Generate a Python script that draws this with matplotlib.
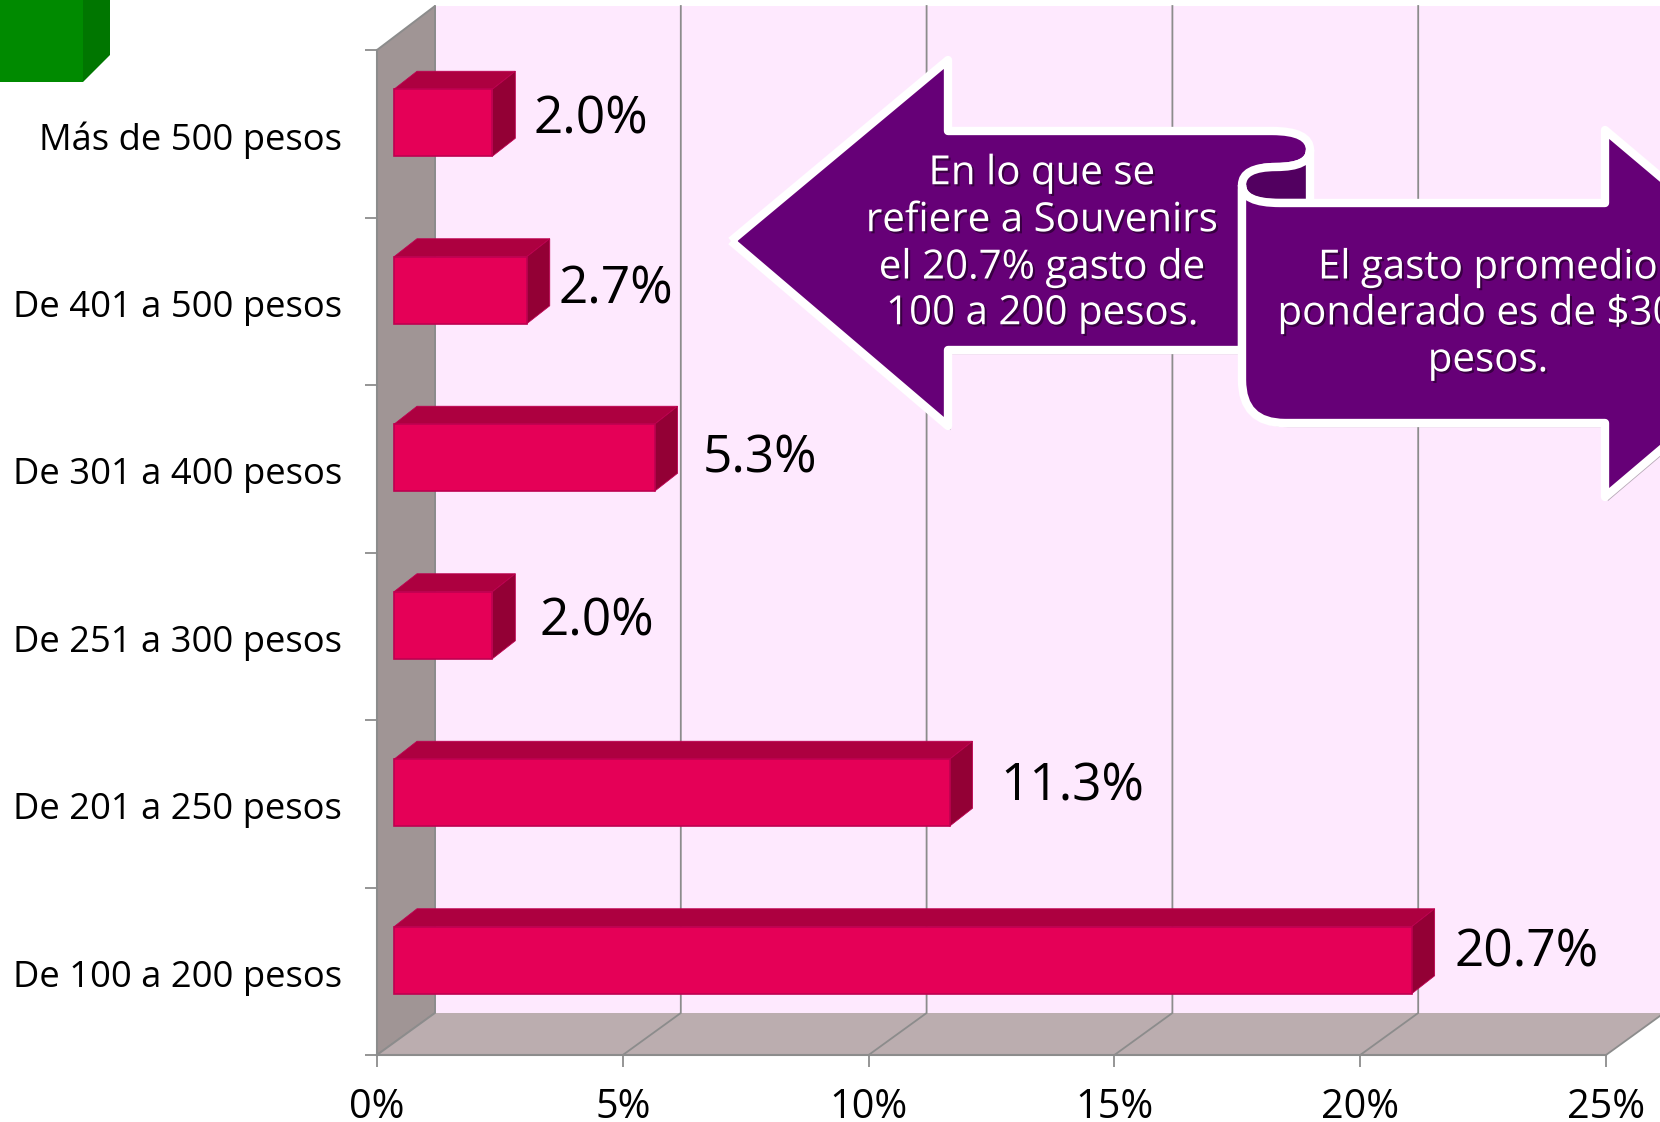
import matplotlib
matplotlib.use("Agg")
import matplotlib.pyplot as plt
import matplotlib.patheffects as pe
from matplotlib.patches import PathPatch, Polygon
from matplotlib.path import Path
from matplotlib.transforms import ScaledTranslation

# Chart data, listed from the bottom category upward
categories = ["De 100 a 200 pesos", "De 201 a 250 pesos", "De 251 a 300 pesos",
              "De 301 a 400 pesos", "De 401 a 500 pesos", "Más de 500 pesos"]
values = [20.7, 11.3, 2.0, 5.3, 2.7, 2.0]
value_labels = ["20.7%", "11.3%", "2.0%", "5.3%", "2.7%", "2.0%"]
x_ticks = [0, 5, 10, 15, 20, 25]
x_tick_labels = ["0%", "5%", "10%", "15%", "20%", "25%"]

# Hand-placed label anchors in figure pixels (left edge, vertical centre)
label_left = [1454, 1000, 539, 703, 558, 533]
label_mid = [953, 787, 622, 459, 290, 120]

W, H = 1660, 1122
FONT = "Open Sans"
plt.rcParams["font.family"] = [FONT, "DejaVu Sans"]

# Colours
GRID = "#8C8C8C"
BACK = "#FEE9FE"
WALL = "#A09595"
FLOOR = "#BBADAF"
BAR_FRONT = "#E50057"
BAR_TOP = "#AD0040"
BAR_SIDE = "#930035"
BAR_EDGE = "#BE0050"
PURPLE = "#660077"
FOLD = "#520060"

fig = plt.figure(figsize=(W / 100, H / 100), dpi=100, facecolor="white")

# Front plane of the 3-D box: data units are percent and category slots
ax = fig.add_axes([377 / W, (H - 1055) / H, 1229 / W, 1005 / H], zorder=1)
ax.set_xlim(0, 25)
ax.set_ylim(0, 6)
ax.patch.set_visible(False)
ux, uy = 1229 / 25, 1005 / 6          # pixels per data unit

# Box depth and the bars' position within it, in data units
DX, DY, DY_TOP = 58 / ux, 42 / uy, 44 / uy
BAR_X, BAR_Y = 17 / ux, 12 / uy
BAR_DX, BAR_DY = 23 / ux, 18 / uy
BAR_H = 67 / uy

# Walls of the box
ax.add_patch(Polygon([(DX, DY), (40, DY), (40, 6 + DY_TOP), (DX, 6 + DY_TOP)],
                     fc=BACK, ec="none", clip_on=False, zorder=1))
ax.add_patch(Polygon([(0, 0), (DX, DY), (DX, 6 + DY_TOP), (0, 6)],
                     fc=WALL, ec=GRID, lw=1.4, clip_on=False, zorder=2))
ax.add_patch(Polygon([(0, 0), (25, 0), (25 + DX, DY), (40, DY), (DX, DY)],
                     fc=FLOOR, ec="none", clip_on=False, zorder=2))

# Gridlines climb the floor, then rise up the back wall
for t in x_ticks:
    ax.plot([t, t + DX, t + DX], [0, DY, 6 + DY_TOP], color=GRID, lw=1.3,
            clip_on=False, zorder=3, solid_joinstyle="miter")

# Bars: front faces from barh, top and side faces from the same values
ypos = [i + 0.5 + BAR_Y - 0.006 for i in range(len(values))]
ax.barh(ypos, values, height=BAR_H, left=BAR_X, color=BAR_FRONT,
        edgecolor=BAR_EDGE, linewidth=1.2, zorder=6, clip_on=False)
for y, v in zip(ypos, values):
    x0, x1 = BAR_X, BAR_X + v
    top, bot = y + BAR_H / 2, y - BAR_H / 2
    ax.add_patch(Polygon([(x0, top), (x1, top), (x1 + BAR_DX, top + BAR_DY),
                          (x0 + BAR_DX, top + BAR_DY)],
                         fc=BAR_TOP, ec=BAR_EDGE, lw=0.6, zorder=5, clip_on=False))
    ax.add_patch(Polygon([(x1, bot), (x1, top), (x1 + BAR_DX, top + BAR_DY),
                          (x1 + BAR_DX, bot + BAR_DY)],
                         fc=BAR_SIDE, ec=BAR_EDGE, lw=0.6, zorder=5, clip_on=False))

# Axes furniture
for side in ("top", "right"):
    ax.spines[side].set_visible(False)
for side in ("left", "bottom"):
    ax.spines[side].set_color(GRID)
    ax.spines[side].set_linewidth(1.5)
    ax.spines[side].set_zorder(4)
ax.set_xticks(x_ticks)
ax.set_xticklabels(x_tick_labels, fontsize=28.5)
ax.tick_params(axis="x", length=8.5, width=1.3, color=GRID, pad=15)
ax.set_yticks(range(7))
ax.set_yticklabels([])
ax.tick_params(axis="y", which="major", length=8.5, width=1.3, color=GRID)
ax.set_yticks([i + 0.5 for i in range(6)], minor=True)
ax.set_yticklabels(categories, minor=True, fontsize=26.2)
ax.tick_params(axis="y", which="minor", length=0, pad=25)
nudge = ScaledTranslation(0, -2 / 100, fig.dpi_scale_trans)
for lab in ax.get_yticklabels(minor=True):
    lab.set_transform(lab.get_transform() + nudge)

# Overlay in figure pixels for annotation shapes and hand-placed text
ov = fig.add_axes([0, 0, 1, 1], zorder=2)
ov.set_xlim(0, W)
ov.set_ylim(H, 0)
ov.axis("off")

for left, mid, text in zip(label_left, label_mid, value_labels):
    ov.text(left, mid, text, fontsize=37, ha="left", va="center", color="black")

# Green block in the top-left corner
ov.add_patch(Polygon([(0, 0), (83, 0), (83, 82), (0, 82)], fc="#008A00", ec="none"))
ov.add_patch(Polygon([(83, 0), (110, 0), (110, 55), (83, 82)], fc="#007600", ec="none"))

M, L, C = Path.MOVETO, Path.LINETO, Path.CURVE3
OUTLINE = dict(fc=PURPLE, ec="white", lw=6, joinstyle="round")
SHADOW = [pe.SimplePatchShadow(offset=(2, -3), shadow_rgbFace="#303030", alpha=0.35), pe.Normal()]

# Left-pointing ribbon arrow
left_verts = [(731, 241), (948, 60), (948, 131), (1272, 131),
              (1310, 131), (1310, 150), (1310, 167), (1276, 167),
              (1242, 167), (1242, 190), (1242, 350), (948, 350), (948, 426), (731, 241)]
left_codes = [M, L, L, L, C, C, C, C, C, C, L, L, L, L]
ov.add_patch(PathPatch(Path(left_verts, left_codes), path_effects=SHADOW, zorder=3, **OUTLINE))

# Rolled fold where the two ribbons meet
fold_verts = [(1276, 167), (1242, 167), (1242, 185), (1242, 203), (1276, 203),
              (1310, 203), (1310, 150), (1310, 167), (1276, 167)]
fold_codes = [M, C, C, C, C, L, L, C, C]
ov.add_patch(PathPatch(Path(fold_verts, fold_codes), fc=FOLD, ec="white", lw=6,
                       joinstyle="round", zorder=4))

# Right-pointing ribbon arrow, running past the figure edge
right_verts = [(1242, 185), (1242, 203), (1280, 203), (1605, 203), (1605, 130), (1822, 313),
               (1605, 497), (1605, 423), (1285, 423), (1242, 423), (1242, 380), (1242, 185)]
right_codes = [M, C, C, L, L, L, L, L, L, C, C, L]
ov.add_patch(PathPatch(Path(right_verts, right_codes), path_effects=SHADOW, zorder=5, **OUTLINE))

TEXT_SHADOW = [pe.SimplePatchShadow(offset=(1.5, -1.5), shadow_rgbFace="black", alpha=0.45), pe.Normal()]
left_lines = ["En lo que se", "refiere a Souvenirs", "el 20.7% gasto de", "100 a 200 pesos."]
for y, line in zip([174, 221, 268, 314], left_lines):
    ov.text(1042, y, line, color="white", fontsize=29, ha="center", va="center",
            zorder=6, path_effects=TEXT_SHADOW)
right_lines = ["El gasto promedio", "ponderado es de $300", "pesos."]
for y, line in zip([268, 314, 361], right_lines):
    ov.text(1488, y, line, color="white", fontsize=29, ha="center", va="center",
            zorder=6, path_effects=TEXT_SHADOW)

fig.savefig("out.png", dpi=100)
